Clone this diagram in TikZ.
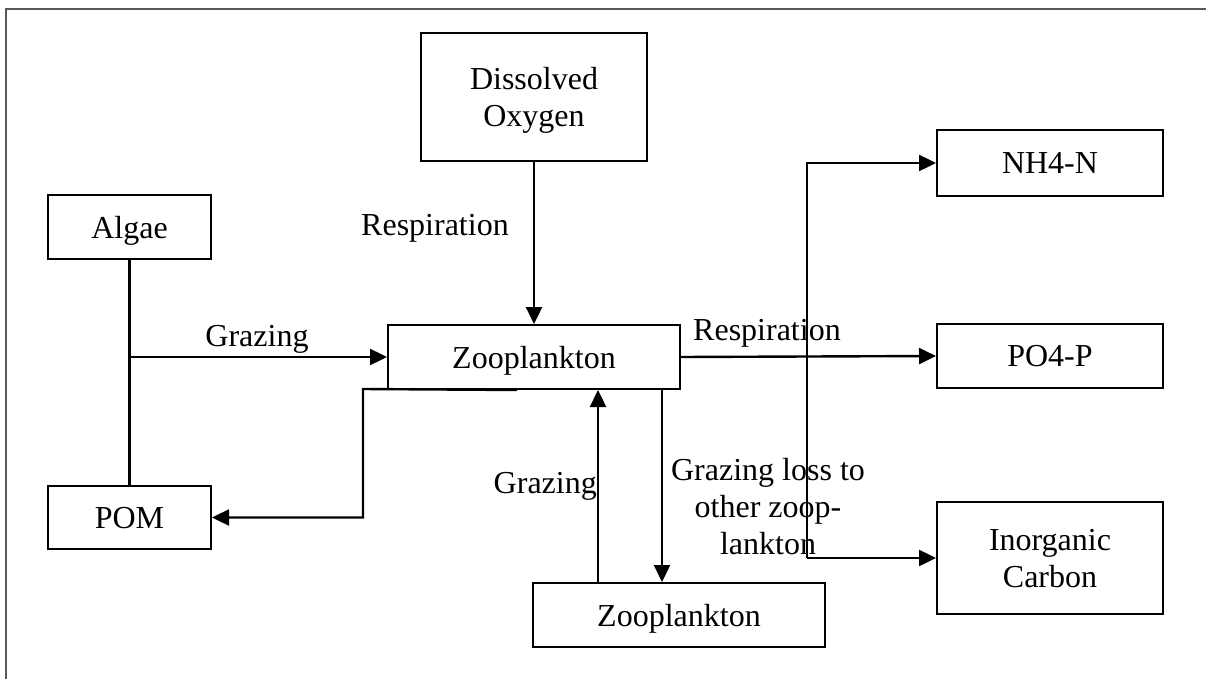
\documentclass[tikz,border=0pt]{standalone}
\usepackage{fontspec}
\setmainfont{Liberation Serif}
\usetikzlibrary{arrows.meta}
\begin{document}
\begin{tikzpicture}[x=1pt,y=-1pt,
  box/.style={draw, line width=2pt, inner sep=0pt, align=center, text depth=0pt, font=\fontsize{32}{37}\selectfont},
  lbl/.style={inner sep=0pt, align=center, font=\fontsize{32}{37}\selectfont},
  conn/.style={line width=2.4pt},
  arr/.style={line width=2.4pt, -{Triangle[length=17pt,width=16pt]}}]
\useasboundingbox (0,0) rectangle (1206,679);
\draw[gray!70!black, line width=2.5pt] (6,679) -- (6,9) -- (1206,9);

\node[box, minimum width=163pt, minimum height=64pt] (algae) at (129.5,227) {Algae};
\node[box, minimum width=163pt, minimum height=63pt] (pom) at (129.5,517.5) {POM};
\node[box, minimum width=226pt, minimum height=128pt] (do) at (534,97) {Dissolved\\Oxygen};
\node[box, minimum width=292pt, minimum height=64pt] (zoo) at (534,357) {Zooplankton};
\node[box, minimum width=292pt, minimum height=64pt] (zoo2) at (679,615) {Zooplankton};
\node[box, minimum width=226pt, minimum height=66pt] (nh4) at (1050,163) {NH4-N};
\node[box, minimum width=226pt, minimum height=64pt] (po4) at (1050,356) {PO4-P};
\node[box, minimum width=226pt, minimum height=112pt] (ic) at (1050,558) {Inorganic\\Carbon};

% Dissolved oxygen -> zooplankton
\draw[arr] (do.south) -- (zoo.north);
\node[lbl, anchor=base west] (resp1) at (361,235) {Respiration};

% Algae - POM line and grazing
\draw[conn] (algae.south) -- (pom.north);
\coordinate (gj) at (129.5,357);
\draw[arr] (gj) -- (zoo.west);
\node[lbl, anchor=base] (graz1) at (257,346) {Grazing};

% Zooplankton -> POM
\draw[arr] ([xshift=-17pt]zoo.south) -- (363,389) |- (pom.east);

% Zooplankton exchanges
\draw[arr] ([xshift=-81pt]zoo2.north) -- ([xshift=-81pt]zoo2.north |- zoo.south);
\draw[arr] ([xshift=-17pt]zoo2.north |- zoo.south) -- ([xshift=-17pt]zoo2.north);
\node[lbl, anchor=base east] (graz2) at (597,493) {Grazing};
\node[lbl] (loss) at (768,507) {Grazing loss to\\other zoop-\\lankton};

% Respiration outputs
\draw[arr] (zoo.east) -- (po4.west);
\node[lbl, anchor=base west] (resp2) at (693,340) {Respiration};
\coordinate (busx) at (807,357);
\draw[arr] (busx |- ic.west) -- (busx |- nh4.west) -- (nh4.west);
\draw[arr] (busx |- ic.west) -- (ic.west);
\end{tikzpicture}
\end{document}
